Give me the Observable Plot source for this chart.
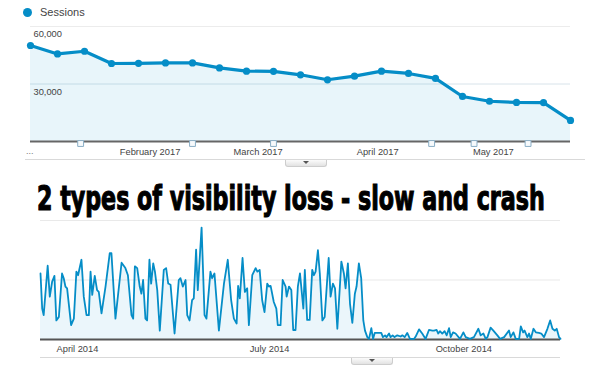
<!DOCTYPE html>
<html><head><meta charset="utf-8">
<script src="https://cdn.jsdelivr.net/npm/d3@7"></script>
<script src="https://cdn.jsdelivr.net/npm/@observablehq/plot@0.6"></script>
<style>
html,body{margin:0;padding:0;background:#fff;}
#root{position:relative;width:600px;height:386px;overflow:hidden;font-family:"Liberation Sans",Arial,sans-serif;}
#root svg{position:absolute;left:0;}
.hline{position:absolute;height:1px;background:#d9d9d9;}
.tab{position:absolute;height:6px;background:linear-gradient(#fbfbfb,#e2e2e2);border:1px solid #cdcdcd;border-top:none;border-radius:0 0 3px 3px;}
.tab::after{content:"";position:absolute;left:50%;top:1px;margin-left:-3px;border-left:3px solid transparent;border-right:3px solid transparent;border-top:3px solid #555;}
.legend{position:absolute;left:23px;top:5px;font-size:11px;color:#444;line-height:14px;white-space:nowrap;}
.legend .sw{display:inline-block;width:9px;height:9px;border-radius:50%;background:#058dc7;vertical-align:-1px;margin-right:8px;}
.dots{position:absolute;left:26px;top:146px;font-size:9px;color:#777;}
</style></head><body><div id="root"></div>
<script>
// ---- Top chart: weekly sessions 2017 ----
const legendLabel = "Sessions";
const sessionWeeks = ["2017-01-01","2017-01-08","2017-01-15","2017-01-22","2017-01-29","2017-02-05","2017-02-12",
  "2017-02-19","2017-02-26","2017-03-05","2017-03-12","2017-03-19","2017-03-26","2017-04-02","2017-04-09",
  "2017-04-16","2017-04-23","2017-04-30","2017-05-07","2017-05-14","2017-05-21"];
const sessionValues = [50100,45700,47100,40700,40800,41000,41000,38400,36700,36600,34800,
  32200,34100,36700,35500,32900,23500,21000,20400,20300,11000];
const sessionMonthTicks = ["2017-02-01","2017-03-01","2017-04-01","2017-05-01"];
const sessionYTicks = [30000, 60000];
const sessionAnnotations = ["2017-01-14","2017-02-12","2017-03-05","2017-04-15","2017-04-26","2017-05-10"];

// ---- Title ----
const titleText = "2 types of visibility loss - slow and crash";

// ---- Bottom chart: daily traffic 2014 (day offsets from 1 April 2014) ----
const trafficBase = "2014-04-01";
const trafficStartDay = -17.5, trafficEndDay = 228.8;
const trafficDays = [-17.5,-16.7,-16.0,-14.1,-13.1,-12.0,-10.9,-10.0,-8.8,-7.3,-6.5,-5.7,-4.9,-3.0,-1.7,-0.5,0.3,1.9,3.0,4.3,
  5.4,6.2,7.0,8.2,9.3,10.1,11.4,13.3,15.3,16.1,18.0,20.9,22.7,23.9,25.6,26.4,27.2,28.3,29.5,30.3,
  31.1,32.2,33.0,34.1,34.9,35.9,36.7,37.8,39.0,40.9,42.0,43.0,44.1,46.0,48.0,48.8,49.9,51.2,52.0,53.1,
  54.3,55.1,56.2,57.0,58.8,60.2,61.1,63.0,63.8,64.9,67.0,69.4,71.2,72.8,74.1,75.4,76.1,76.9,78.2,79.3,
  80.4,81.2,82.8,84.4,85.2,86.3,87.5,88.6,89.9,90.7,91.5,93.0,94.2,94.9,96.2,97.2,98.6,99.1,100.2,101.3,
  102.2,103.3,104.4,105.4,107.0,107.7,108.8,110.0,111.2,112.0,112.8,113.9,114.8,116.0,117.1,119.0,119.9,121.0,122.0,123.1,
  125.0,126.2,127.0,128.1,129.1,130.2,131.4,132.2,133.3,134.4,135.4,136.2,137.3,138.1,139.2,140.0,140.8,142.8,143.9,144.7,
  145.7,146.4,147.6,148.3,149.3,150.2,151.5,153.1,153.9,155.0,156.2,157.5,159.4,160.2,161.8,163.3,164.9,166.5,168.1,168.9,
  170.1,170.9,171.7,172.8,173.9,174.9,176.0,176.8,177.9,179.1,181.2,182.8,183.9,185.9,187.8,189.9,191.0,192.3,193.4,194.2,
  195.7,197.0,198.9,200.2,202.1,204.4,205.2,206.5,207.6,209.2,210.0,211.1,211.8,213.1,213.9,214.7,216.0,217.1,218.6,219.7,
  221.0,222.6,223.9,225.0,226.1,227.0,228.1,228.8];
const trafficValues = [111,52,41,124,72,97,107,32,38,111,103,89,86,24,35,114,108,134,72,41,
  41,114,75,107,83,80,44,89,145,145,35,129,120,108,41,35,123,120,89,77,
  100,35,32,134,94,128,114,83,15,117,120,94,92,10,100,103,89,100,41,32,
  66,69,151,83,188,41,35,114,103,111,15,94,134,66,35,27,90,69,137,80,
  86,24,108,120,114,117,66,46,94,89,90,63,52,24,24,100,89,72,89,83,
  16,16,89,111,52,117,33,33,117,108,114,150,111,32,38,137,72,94,86,18,
  131,111,86,128,60,28,77,89,128,103,32,15,4,1,19,1,11,11,11,4,
  7,4,10,4,7,4,7,5,7,4,11,1,1,5,17,10,1,16,15,15,
  16,10,14,10,14,7,19,4,12,10,1,12,4,1,4,18,7,10,1,4,
  20,15,7,1,4,15,4,12,1,1,22,12,15,4,10,1,18,12,11,10,
  4,18,32,18,15,18,4,1];
const trafficMonthTicks = ["2014-04-01","2014-07-01","2014-10-01"];
const trafficGrid = [100, 200];

const BLUE = "#058dc7";
const root = document.getElementById("root");
const baseStyle = {fontFamily:"Liberation Sans, Arial, sans-serif", fontSize:"9.3px", color:"#444", background:"transparent", overflow:"visible"};

// legend
const lg = document.createElement("div");
lg.className = "legend";
lg.innerHTML = '<span class="sw"></span>';
lg.appendChild(document.createTextNode(legendLabel));
root.appendChild(lg);

// top chart
const sess = sessionWeeks.map((d,i)=>({date:new Date(d), value:sessionValues[i]}));
const topPlot = Plot.plot({
  width:600, height:170, marginLeft:30, marginRight:30, marginTop:26, marginBottom:29,
  style: baseStyle,
  x:{type:"utc", domain:[new Date(sessionWeeks[0]), new Date(sessionWeeks[sessionWeeks.length-1])], axis:null},
  y:{domain:[0,60000], axis:null},
  marks:[
    Plot.ruleY([60000], {stroke:"#ececec"}),
    Plot.ruleY([30000], {stroke:"#d8e3ea"}),
    Plot.areaY(sess, {x:"date", y:"value", fill:BLUE, fillOpacity:0.09}),
    Plot.ruleY([0], {stroke:"#666", strokeWidth:2}),
    Plot.dot(sessionAnnotations.map(d=>new Date(d)), {x:d=>d, y:0, dy:2, symbol:"square", r:3.3, fill:"#f7fafc", stroke:"#8aaec6", strokeWidth:1}),
    Plot.lineY(sess, {x:"date", y:"value", stroke:BLUE, strokeWidth:3.2, strokeLinejoin:"round"}),
    Plot.dot(sess, {x:"date", y:"value", r:3.6, fill:BLUE}),
    Plot.text(sessionYTicks, {x:()=>new Date(sessionWeeks[0]), y:d=>d, text:d=>d3.format(",")(d), textAnchor:"start", lineAnchor:"top", dx:3, dy:4, fill:"#444"}),
    Plot.axisX({ticks:sessionMonthTicks.map(d=>new Date(d)), tickFormat:d3.utcFormat("%B %Y"), tickSize:0, tickPadding:7, fill:"#444", label:null})
  ]
});
topPlot.style.top = "0px";
root.appendChild(topPlot);

const l1 = document.createElement("div"); l1.className="hline";
Object.assign(l1.style,{left:"25px", top:"159px", width:"560px"}); root.appendChild(l1);
const t1 = document.createElement("div"); t1.className="tab";
Object.assign(t1.style,{left:"285px", top:"160px", width:"40px"}); root.appendChild(t1);
const dd = document.createElement("div"); dd.className="dots"; dd.textContent="..."; root.appendChild(dd);

// bottom chart
const base = new Date(trafficBase).getTime();
const dayDate = d => new Date(base + d*864e5);
const traffic = trafficDays.map((d,i)=>({date:dayDate(d), value:trafficValues[i]}));
const botPlot = Plot.plot({
  width:600, height:152, marginLeft:40, marginRight:40, marginTop:2, marginBottom:31,
  style: baseStyle,
  x:{type:"utc", domain:[dayDate(trafficStartDay), dayDate(trafficEndDay)], axis:null},
  y:{domain:[0,200], axis:null},
  marks:[
    Plot.ruleY(trafficGrid, {stroke:"#e9e9e9"}),
    Plot.areaY(traffic, {x:"date", y:"value", fill:BLUE, fillOpacity:0.08}),
    Plot.ruleY([0], {stroke:"#555", strokeWidth:2}),
    Plot.lineY(traffic, {x:"date", y:"value", stroke:BLUE, strokeWidth:1.8, strokeLinejoin:"round"}),
    Plot.axisX({ticks:trafficMonthTicks.map(d=>new Date(d)), tickFormat:d3.utcFormat("%B %Y"), tickSize:0, tickPadding:6, fill:"#444", label:null})
  ]
});
botPlot.style.top = "218px";
root.appendChild(botPlot);

const l2 = document.createElement("div"); l2.className="hline";
Object.assign(l2.style,{left:"40px", top:"357px", width:"520px"}); root.appendChild(l2);
const t2 = document.createElement("div"); t2.className="tab";
Object.assign(t2.style,{left:"351px", top:"358px", width:"40px"}); root.appendChild(t2);

// title (drawn last, on top), horizontally condensed to the reference width
const ns = "http://www.w3.org/2000/svg";
const tsvg = document.createElementNS(ns,"svg");
tsvg.setAttribute("width","600"); tsvg.setAttribute("height","48");
tsvg.style.top = "170px";
const tt = document.createElementNS(ns,"text");
tt.setAttribute("x","0"); tt.setAttribute("y","0");
tt.setAttribute("font-family","DejaVu Sans Condensed, DejaVu Sans");
tt.setAttribute("font-weight","bold");
tt.setAttribute("font-size","33");
tt.setAttribute("fill","#000"); tt.setAttribute("stroke","#000"); tt.setAttribute("stroke-width","1.1");
tt.textContent = titleText;
tsvg.appendChild(tt);
root.appendChild(tsvg);
const natural = tt.getComputedTextLength() || 700;
tt.setAttribute("transform", `translate(37,40) scale(${(508/natural).toFixed(4)},1)`);
</script></body></html>
